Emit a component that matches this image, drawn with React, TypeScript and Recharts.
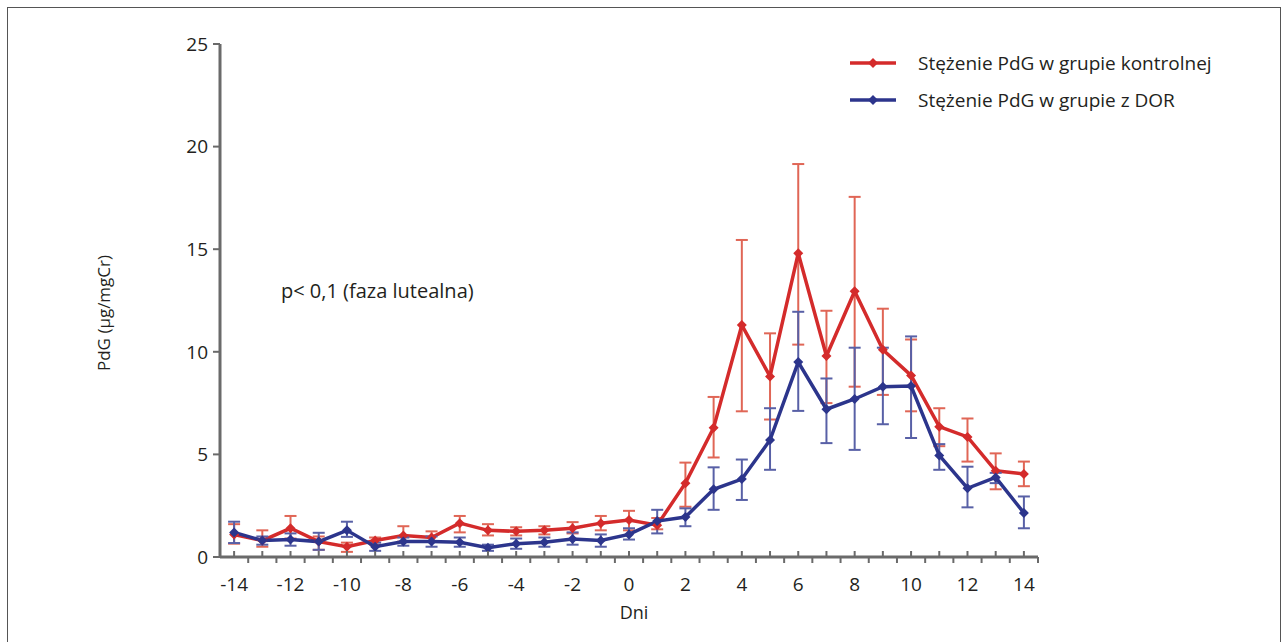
import { LineChart, Line, XAxis, YAxis, ErrorBar } from 'recharts';

// days of the cycle (0 = LH peak)
const days = [-14, -13, -12, -11, -10, -9, -8, -7, -6, -5, -4, -3, -2, -1, 0, 1, 2, 3, 4, 5, 6, 7, 8, 9, 10, 11, 12, 13, 14];

// control group: mean, upper and lower end of error bar
const ctrlMean = [1.1, 0.8, 1.4, 0.75, 0.5, 0.8, 1.05, 0.95, 1.65, 1.3, 1.25, 1.3, 1.4, 1.65, 1.8, 1.55, 3.6, 6.3, 11.3, 8.8, 14.8, 9.8, 12.95, 10.1, 8.85, 6.35, 5.85, 4.2, 4.05];
const ctrlHigh = [1.6, 1.3, 2.0, 1.0, 0.7, 0.95, 1.5, 1.25, 2.0, 1.6, 1.45, 1.5, 1.7, 2.0, 2.25, 1.9, 4.6, 7.8, 15.45, 10.9, 19.15, 12.0, 17.55, 12.1, 10.6, 7.25, 6.75, 5.05, 4.65];
const ctrlLow = [0.65, 0.5, 0.9, 0.35, 0.25, 0.6, 0.75, 0.75, 1.2, 1.05, 1.05, 1.1, 1.15, 1.3, 1.3, 1.35, 2.45, 4.85, 7.1, 6.7, 10.35, 7.5, 8.3, 7.9, 7.1, 5.4, 4.65, 3.3, 3.45];

// DOR group
const dorMean = [1.2, 0.8, 0.85, 0.75, 1.3, 0.5, 0.75, 0.75, 0.72, 0.45, 0.65, 0.72, 0.88, 0.8, 1.1, 1.75, 1.95, 3.3, 3.8, 5.7, 9.5, 7.2, 7.7, 8.3, 8.33, 4.95, 3.35, 3.88, 2.15];
const dorHigh = [1.72, 1.0, 1.15, 1.18, 1.72, 0.7, 0.95, 1.0, 0.95, 0.6, 0.9, 0.95, 1.2, 1.1, 1.4, 2.3, 2.37, 4.37, 4.75, 7.25, 11.95, 8.7, 10.2, 10.2, 10.75, 5.5, 4.4, 4.1, 2.95];
const dorLow = [0.68, 0.6, 0.55, 0.35, 0.98, 0.3, 0.55, 0.5, 0.5, 0.3, 0.4, 0.5, 0.6, 0.5, 0.85, 1.15, 1.5, 2.3, 2.78, 4.25, 7.12, 5.55, 5.22, 6.47, 5.8, 4.25, 2.42, 3.6, 1.4];

const yTicks = [0, 5, 10, 15, 20, 25];
const xTicks: number[] = [];
for (let t = -14.5; t <= 14.5; t += 0.5) xTicks.push(t);

const seriesNames = ['Stężenie PdG w grupie kontrolnej', 'Stężenie PdG w grupie z DOR'];

const RED = '#d42b2b';
const RED_ERR = '#e06656';
const BLUE = '#2c358c';
const BLUE_ERR = '#5860a6';
const AXIS = '#6a6a6a';
const TEXT = '#231f20';
const FONT = '"Open Sans", sans-serif';

const data = days.map((day, i) => ({
  day,
  ctrl: ctrlMean[i],
  ctrlErr: [ctrlMean[i] - ctrlLow[i], ctrlHigh[i] - ctrlMean[i]],
  dor: dorMean[i],
  dorErr: [dorMean[i] - dorLow[i], dorHigh[i] - dorMean[i]],
}));

const diamond = (color: string) => (props: any) => {
  const { cx, cy, index } = props;
  if (cx == null || cy == null) return <g key={index} />;
  const r = 5;
  return (
    <path
      key={index}
      d={`M${cx},${cy - r}L${cx + r},${cy}L${cx},${cy + r}L${cx - r},${cy}Z`}
      fill={color}
    />
  );
};

function XTick(props: any) {
  const { x, y, payload } = props;
  const v = payload.value;
  const isInt = Number.isInteger(v);
  if (v === -14.5) return null;
  return (
    <g>
      {isInt ? (
        <line x1={x} y1={y} x2={x} y2={y - 6} stroke={AXIS} strokeWidth={2} />
      ) : (
        <line x1={x} y1={y} x2={x} y2={y + 6} stroke={AXIS} strokeWidth={2} />
      )}
      {isInt && v % 2 === 0 && (
        <text x={x} y={y + 34} textAnchor="middle" fontSize={19} fill={TEXT} fontFamily={FONT}>
          {v}
        </text>
      )}
    </g>
  );
}

function LegendItem({ color, label, top }: { color: string; label: string; top: number }) {
  return (
    <div style={{ position: 'absolute', left: 848, top, height: 24, display: 'flex', alignItems: 'center' }}>
      <svg width={50} height={12}>
        <line x1={2} y1={6} x2={48} y2={6} stroke={color} strokeWidth={3.5} />
        <path d="M25,1L30,6L25,11L20,6Z" fill={color} />
      </svg>
      <span style={{ marginLeft: 20, fontSize: 19, color: TEXT, whiteSpace: 'nowrap' }}>{label}</span>
    </div>
  );
}

export default function App() {
  return (
    <div
      style={{
        position: 'absolute',
        left: 0,
        top: 0,
        width: 1282,
        height: 642,
        background: '#fff',
        overflow: 'hidden',
        fontFamily: FONT,
      }}
    >
      <div
        style={{
          position: 'absolute',
          left: 7,
          top: 7,
          width: 1274,
          height: 700,
          border: '1px solid #555',
          boxSizing: 'border-box',
        }}
      />
      <LineChart
        width={1282}
        height={642}
        data={data}
        margin={{ top: 44, right: 244, bottom: 55, left: 160 }}
        style={{ position: 'absolute', left: 0, top: 0 }}
      >
        <XAxis
          type="number"
          dataKey="day"
          domain={[-14.5, 14.5]}
          ticks={xTicks}
          interval={0}
          height={30}
          tickSize={0}
          tickMargin={0}
          tickLine={false}
          tick={<XTick />}
          axisLine={{ stroke: AXIS, strokeWidth: 3 }}
        />
        <YAxis
          type="number"
          domain={[0, 25]}
          ticks={yTicks}
          interval={0}
          width={60}
          tickSize={7}
          tickMargin={5}
          tickLine={{ stroke: AXIS, strokeWidth: 2 }}
          axisLine={{ stroke: AXIS, strokeWidth: 3 }}
          tick={{ fontSize: 19, fill: TEXT, fontFamily: FONT }}
        />
        <Line
          dataKey="ctrl"
          name={seriesNames[0]}
          stroke={RED}
          strokeWidth={3.5}
          dot={diamond(RED)}
          isAnimationActive={false}
        >
          <ErrorBar dataKey="ctrlErr" direction="y" width={6} stroke={RED_ERR} strokeWidth={2} isAnimationActive={false} />
        </Line>
        <Line
          dataKey="dor"
          name={seriesNames[1]}
          stroke={BLUE}
          strokeWidth={3.5}
          dot={diamond(BLUE)}
          isAnimationActive={false}
        >
          <ErrorBar dataKey="dorErr" direction="y" width={6} stroke={BLUE_ERR} strokeWidth={2} isAnimationActive={false} />
        </Line>
      </LineChart>

      <LegendItem color={RED} label={seriesNames[0]} top={51} />
      <LegendItem color={BLUE} label={seriesNames[1]} top={88} />

      <div style={{ position: 'absolute', left: 281, top: 277, fontSize: 20, color: TEXT, whiteSpace: 'nowrap' }}>
        p&lt; 0,1 (faza lutealna)
      </div>
      <div
        style={{
          position: 'absolute',
          left: 103,
          top: 313,
          transform: 'translate(-50%, -50%) rotate(-90deg)',
          fontSize: 17,
          color: TEXT,
          whiteSpace: 'nowrap',
        }}
      >
        PdG (μg/mgCr)
      </div>
      <div style={{ position: 'absolute', left: 634, top: 612, transform: 'translate(-50%, -50%)', fontSize: 18, color: TEXT }}>
        Dni
      </div>
    </div>
  );
}
